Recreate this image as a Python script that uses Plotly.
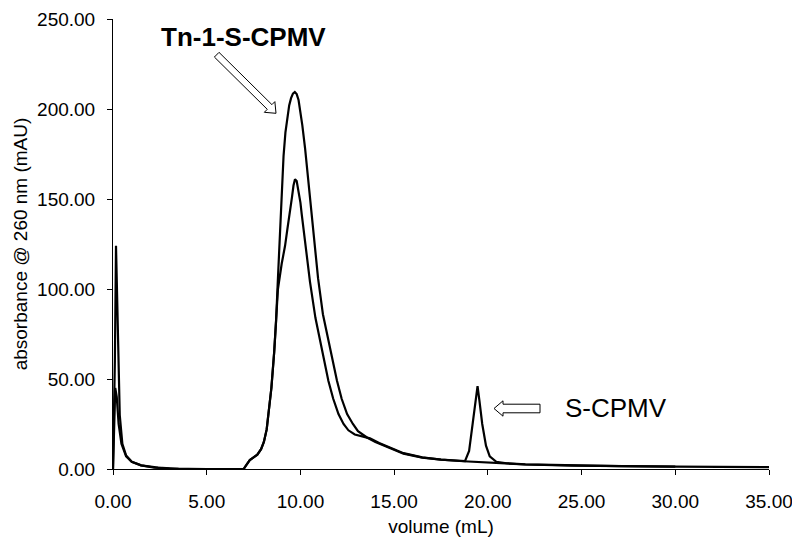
import plotly.graph_objects as go

# ---------------- data ----------------
# Trace A: Tn-1-S-CPMV (taller main peak)
vol_a = [0.0, 0.05, 0.12, 0.2, 0.3, 0.45, 0.7, 1.0, 1.5, 2.2, 3.0, 5.0, 6.97,
         7.1, 7.3, 7.5, 7.7, 7.9, 8.05, 8.2, 8.3, 8.45, 8.6, 8.7, 8.8, 8.9, 9.0,
         9.1, 9.2, 9.3, 9.4, 9.5, 9.6, 9.7, 9.8, 9.9, 10.0, 10.1, 10.25, 10.45,
         10.62, 10.8, 10.94, 11.2, 11.58, 11.95, 12.2, 12.49, 12.8, 13.07, 13.55,
         14.0, 14.8, 15.5, 16.5, 17.5, 18.7, 20.0, 21.0, 22.0, 24.5, 27.0, 30.0]
abs_a = [0.0, 25.0, 45.0, 40.0, 25.0, 14.0, 7.0, 4.0, 2.0, 0.8, 0.2, 0.0, 0.0,
         2.0, 5.0, 6.5, 8.0, 11.0, 15.0, 22.0, 30.0, 45.0, 65.0, 82.0, 106.0, 132.0, 155.0,
         174.0, 187.0, 196.0, 202.0, 206.0, 208.5, 209.4, 208.3, 205.0, 199.0, 191.0, 178.0, 158.0,
         141.5, 121.0, 106.0, 86.0, 67.0, 49.0, 39.0, 30.5, 25.0, 21.0, 17.5,
         15.0, 11.5, 8.5, 6.3, 5.2, 4.3, 3.5, 3.0, 2.5, 1.9, 1.5, 1.3]

# Trace B: lower main peak + S-CPMV peak
vol_b = [0.0, 0.1, 0.16, 0.22, 0.26, 0.3, 0.36, 0.5, 0.7, 1.0, 1.5, 2.4, 3.5, 6.97,
         7.1, 7.3, 7.5, 7.7, 7.9, 8.05, 8.2, 8.3, 8.45, 8.6, 8.7, 8.8, 9.0, 9.18, 9.3,
         9.44, 9.55, 9.63, 9.71, 9.8, 9.9, 10.0, 10.07, 10.3, 10.51, 10.8, 11.13, 11.49,
         11.75, 12.03, 12.3, 12.56, 12.9, 13.18, 13.45, 13.71, 14.2, 14.8, 15.5, 16.5,
         17.5, 18.78, 19.0, 19.2, 19.35, 19.45, 19.55, 19.7, 19.9, 20.1, 20.45, 21.0,
         22.0, 24.5, 27.0, 30.0, 35.0]
abs_b = [0.0, 60.0, 124.0, 95.0, 70.0, 48.0, 30.0, 14.0, 7.5, 4.0, 2.0, 0.8, 0.1, 0.0,
         2.0, 5.0, 6.5, 8.0, 11.0, 15.0, 22.0, 30.0, 45.0, 65.0, 82.0, 100.0, 114.0, 124.0, 133.0,
         142.0, 151.0, 157.5, 161.0, 160.0, 155.0, 148.0, 141.5, 123.0, 104.0, 84.0, 67.0, 49.0,
         39.0, 30.5, 25.0, 21.5, 19.2, 18.3, 17.8, 17.0, 14.5, 11.8, 8.8, 6.5,
         5.2, 4.4, 10.0, 26.0, 40.0, 46.0, 38.0, 25.0, 13.0, 7.0, 4.0, 3.2,
         2.6, 2.0, 1.6, 1.3, 1.0]

x_ticks = [0, 5, 10, 15, 20, 25, 30, 35]
y_ticks = [0, 50, 100, 150, 200, 250]

# ---------------- layout geometry ----------------
# The page body has an 8px default margin, so the figure is offset by OFF.
OFF = 8
W, H = 800, 548
ML, MR, MT, MB = 113 - OFF, 31 + OFF, 19 - OFF, 79 + OFF
XR = (0, 35)
YR = (0, 250)
PW = W - ML - MR
PH = H - MT - MB


def px2data(px, py):
    """Convert a screenshot pixel position to data coordinates."""
    fx = px - OFF
    fy = py - OFF
    x = XR[0] + (fx - ML) / PW * (XR[1] - XR[0])
    y = YR[0] + (H - MB - fy) / PH * (YR[1] - YR[0])
    return x, y


def hollow_arrow(tail, tip, shaft_hw, head_hw, head_len):
    import math
    tx, ty = tail
    hx, hy = tip
    dx, dy = hx - tx, hy - ty
    L = math.hypot(dx, dy)
    ux, uy = dx / L, dy / L
    nx, ny = -uy, ux
    bx, by = hx - ux * head_len, hy - uy * head_len
    pts = [
        (tx + nx * shaft_hw, ty + ny * shaft_hw),
        (bx + nx * shaft_hw, by + ny * shaft_hw),
        (bx + nx * head_hw, by + ny * head_hw),
        (hx, hy),
        (bx - nx * head_hw, by - ny * head_hw),
        (bx - nx * shaft_hw, by - ny * shaft_hw),
        (tx - nx * shaft_hw, ty - ny * shaft_hw),
    ]
    d = []
    for i, (px, py) in enumerate(pts):
        x, y = px2data(px, py)
        d.append(("M" if i == 0 else "L") + f"{x:.4f},{y:.4f}")
    return " ".join(d) + " Z"


FONT = "Arial, Liberation Sans, Helvetica, sans-serif"

fig = go.Figure()
fig.add_trace(go.Scatter(x=vol_a, y=abs_a, mode="lines",
                         line=dict(color="black", width=2.2), showlegend=False))
fig.add_trace(go.Scatter(x=vol_b, y=abs_b, mode="lines",
                         line=dict(color="black", width=2.2), showlegend=False))

shapes = [
    dict(type="path", xref="x", yref="y",
         path=hollow_arrow((216.7, 54.7), (276.0, 113.3), 3.3, 7.5, 9.0),
         line=dict(color="black", width=1), fillcolor="white"),
    dict(type="path", xref="x", yref="y",
         path=hollow_arrow((540.0, 408.5), (494.0, 408.5), 4.3, 7.7, 9.0),
         line=dict(color="black", width=1), fillcolor="white"),
]

ax1 = px2data(243, 37)
ax2 = px2data(616, 408)
annotations = [
    dict(x=ax1[0], y=ax1[1], xref="x", yref="y", text="<b>Tn-1-S-CPMV</b>",
         showarrow=False, font=dict(family=FONT, size=26, color="black")),
    dict(x=ax2[0], y=ax2[1], xref="x", yref="y", text="S-CPMV",
         showarrow=False, font=dict(family=FONT, size=26, color="black")),
]

fig.update_layout(
    width=W, height=H,
    margin=dict(l=ML, r=MR, t=MT, b=MB, pad=0, autoexpand=False),
    paper_bgcolor="white", plot_bgcolor="white",
    font=dict(family=FONT, size=19, color="black"),
    shapes=shapes, annotations=annotations,
    xaxis=dict(range=list(XR), tickvals=x_ticks, tickformat=".2f",
               showgrid=False, zeroline=False, showline=True, automargin=False,
               linecolor="black", linewidth=1, ticks="outside", ticklen=5,
               tickcolor="black", ticklabelstandoff=10,
               title=dict(text="volume (mL)", standoff=8,
                          font=dict(family=FONT, size=19))),
    yaxis=dict(range=list(YR), tickvals=y_ticks, tickformat=".2f",
               showgrid=False, zeroline=False, showline=True, automargin=False,
               linecolor="black", linewidth=1, ticks="outside", ticklen=5,
               tickcolor="black", ticklabelstandoff=8,
               title=dict(text="absorbance @ 260 nm (mAU)", standoff=4,
                          font=dict(family=FONT, size=19))),
)

fig.write_html("out.html")
